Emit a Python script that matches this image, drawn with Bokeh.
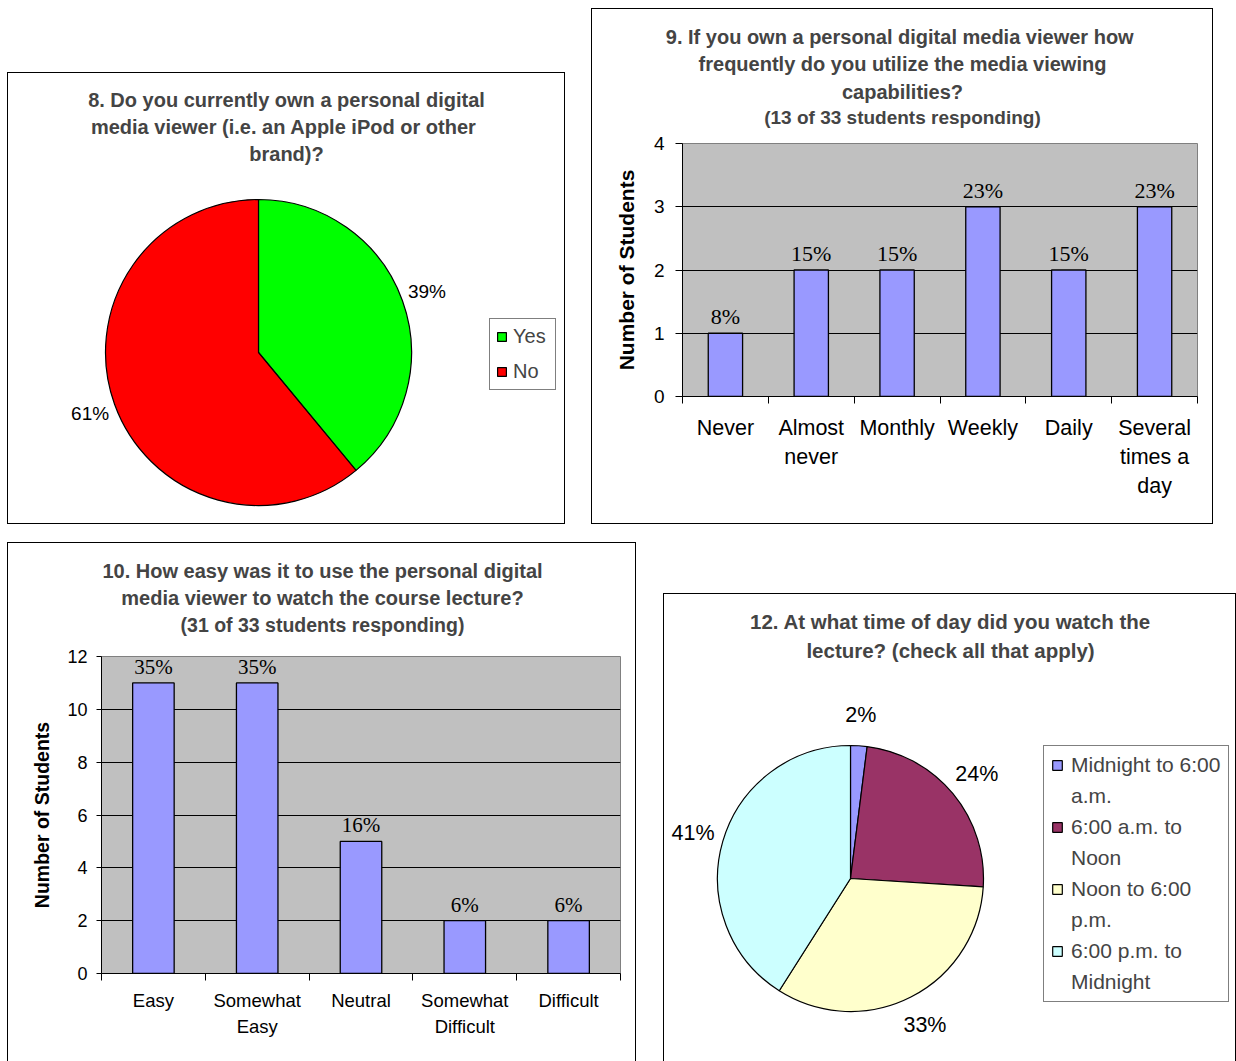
import numpy as np
from bokeh.plotting import figure
from bokeh.models import ColumnDataSource, Range1d, FixedTicker, Label, Legend, LegendItem, Spacer
from bokeh.layouts import row, column
from bokeh.embed import file_html
from bokeh.resources import INLINE
from bokeh.core.properties import value

# ---------------- data ----------------
q8_title = ["8. Do you currently own a personal digital",
            "media viewer (i.e.  an Apple iPod or other",
            "brand)?"]
q8_labels = ["Yes", "No"]
q8_percent = [39, 61]
q8_colors = ["#00FF00", "#FF0000"]

q9_title = ["9. If you own a personal digital media viewer  how",
            "frequently do you utilize the media viewing",
            "capabilities?"]
q9_subtitle = "(13 of 33 students responding)"
q9_categories = ["Never", "Almost\nnever", "Monthly", "Weekly", "Daily", "Several\ntimes a\nday"]
q9_counts = [1, 2, 2, 3, 2, 3]
q9_percent_labels = ["8%", "15%", "15%", "23%", "15%", "23%"]
q9_yticks = [0, 1, 2, 3, 4]

q10_title = ["10. How easy was it to use the personal digital",
             "media viewer to watch the course lecture?"]
q10_subtitle = "(31 of 33 students responding)"
q10_categories = ["Easy", "Somewhat\nEasy", "Neutral", "Somewhat\nDifficult", "Difficult"]
q10_counts = [11, 11, 5, 2, 2]
q10_percent_labels = ["35%", "35%", "16%", "6%", "6%"]
q10_yticks = [0, 2, 4, 6, 8, 10, 12]

q12_title = ["12. At what time of day did you watch the",
             "lecture? (check all that apply)"]
q12_labels = ["Midnight to 6:00\na.m.", "6:00 a.m. to\nNoon", "Noon to 6:00\np.m.", "6:00 p.m. to\nMidnight"]
q12_percent = [2, 24, 33, 41]
q12_colors = ["#9999FF", "#993366", "#FFFFCC", "#CCFFFF"]

y_axis_title = "Number of Students"

# ---------------- styling ----------------
SANS = "Liberation Sans"
SERIF = "Liberation Serif"
B = "1px solid #000000"
BAR_FILL = "#9999FF"
PLOT_BG = "#C0C0C0"


def blank_fig(W, H, styles):
    p = figure(width=W, height=H, x_range=Range1d(0, W), y_range=Range1d(0, H),
               min_border=0, x_axis_location=None, y_axis_location=None,
               toolbar_location=None, output_backend="svg", title=None, styles=styles)
    p.grid.grid_line_color = None
    p.outline_line_color = None
    return p


def add_lines(p, loc, lines, cx, ys, sizes):
    for line, ty, sz in zip(lines, ys, sizes):
        tx, tyl = loc(cx, ty)
        p.add_layout(Label(x=tx, y=tyl, text=line, text_align="center",
                           text_baseline="middle", text_font=SANS,
                           text_font_size=sz, text_font_style="bold"))


def make_pie(box, center_px, radius, label_radius, pct, colors, pct_font,
             title_lines, title_cx, title_ys, title_font, styles):
    bx, by, bw, bh = box
    ox, oy = bx + 1, by + 1

    def loc(px, py):
        return px - ox, bh - (py - oy)

    p = blank_fig(bw, bh, styles)
    frac = np.array(pct, dtype=float) / float(sum(pct))
    cum = np.concatenate([[0.0], np.cumsum(frac)])
    start = np.pi / 2 - 2 * np.pi * cum[:-1]
    end = np.pi / 2 - 2 * np.pi * cum[1:]
    mid = np.pi / 2 - np.pi * (cum[:-1] + cum[1:])
    cx, cy = loc(*center_px)
    src = ColumnDataSource(dict(start=start, end=end, color=colors,
                                lx=cx + label_radius * np.cos(mid),
                                ly=cy + label_radius * np.sin(mid),
                                txt=[f"{v}%" for v in pct]))
    r = p.wedge(x=cx, y=cy, radius=radius, start_angle="start", end_angle="end",
                direction="clock", fill_color="color", line_color="black",
                line_width=1.2, source=src)
    p.text(x="lx", y="ly", text="txt", source=src, text_align="center",
           text_baseline="middle", text_font=value(SANS), text_font_size=pct_font,
           text_color="black")
    add_lines(p, loc, title_lines, title_cx, title_ys, [title_font] * len(title_lines))
    return p, r, loc


def make_bar(box, title_h, frame, cats, counts, pct_labels, yticks, tick_font,
             tick_out, tick_standoff, cat_font, cat_lh, cat_standoff, pct_font,
             title_lines, title_cx, title_ys, title_font, sub_text, sub_y, sub_font,
             ytitle_font, ytitle_standoff, bottom_border):
    bx, by, bw, bh = box
    fx0, fy0, fx1, fy1 = frame
    # --- title strip (top part of the box) ---
    tstyle = {"border-top": B, "border-left": B, "border-right": B}
    t = blank_fig(bw, title_h, tstyle)
    t.frame_align = False
    ox, oy = bx + 1, by + 1

    def tloc(px, py):
        return px - ox, title_h - (py - oy)

    add_lines(t, tloc, title_lines + [sub_text], title_cx, title_ys + [sub_y],
              [title_font] * len(title_lines) + [sub_font])

    # --- bar chart (rest of the box) ---
    H = bh - title_h
    cx0, cy0 = bx + 1, by + title_h
    n = len(cats)
    ymax = yticks[-1]
    bstyle = {"border-left": B, "border-right": B}
    if bottom_border:
        bstyle["border-bottom"] = B
    p = figure(width=bw, height=H, x_range=Range1d(0, n), y_range=Range1d(0, ymax),
               min_border_left=fx0 - cx0, min_border_right=cx0 + bw - fx1,
               min_border_top=fy0 - cy0, min_border_bottom=cy0 + H - fy1,
               toolbar_location=None, output_backend="svg", title=None, styles=bstyle)
    p.frame_align = False
    p.background_fill_color = PLOT_BG
    p.border_fill_color = "white"
    p.outline_line_color = "#808080"
    p.outline_line_width = 1

    centers = [i + 0.5 for i in range(n)]
    src = ColumnDataSource(dict(x=centers, top=counts, txt=pct_labels))
    p.vbar(x="x", top="top", bottom=0, width=0.4, fill_color=BAR_FILL,
           line_color="black", line_width=1.3, source=src)
    p.text(x="x", y="top", text="txt", source=src, text_align="center",
           text_baseline="bottom", y_offset=-4, text_font=value(SERIF),
           text_font_size=pct_font, text_color="black")

    xa = p.xaxis[0]
    xa.ticker = FixedTicker(ticks=centers, minor_ticks=list(range(n + 1)))
    xa.major_label_overrides = {c: lab for c, lab in zip(centers, cats)}
    xa.major_tick_line_color = None
    xa.major_tick_in = 0
    xa.major_tick_out = 0
    xa.minor_tick_in = 0
    xa.minor_tick_out = 7
    xa.minor_tick_line_color = "black"
    xa.axis_line_color = "black"
    xa.major_label_text_font = SANS
    xa.major_label_text_font_size = cat_font
    xa.major_label_text_color = "black"
    xa.major_label_text_line_height = cat_lh
    xa.major_label_standoff = cat_standoff

    ya = p.yaxis[0]
    ya.ticker = FixedTicker(ticks=yticks)
    ya.minor_tick_line_color = None
    ya.major_tick_in = 0
    ya.major_tick_out = tick_out
    ya.major_tick_line_color = "black"
    ya.axis_line_color = "black"
    ya.major_label_text_font = SANS
    ya.major_label_text_font_size = tick_font
    ya.major_label_text_color = "black"
    ya.major_label_standoff = tick_standoff
    ya.axis_label = y_axis_title
    ya.axis_label_text_font = SANS
    ya.axis_label_text_font_size = ytitle_font
    ya.axis_label_text_font_style = "bold"
    ya.axis_label_text_color = "black"
    ya.axis_label_standoff = ytitle_standoff

    p.xgrid.visible = False
    p.ygrid.ticker = FixedTicker(ticks=yticks[1:-1])
    p.ygrid.grid_line_color = "black"
    p.ygrid.grid_line_width = 1
    return column(t, p)


# ---------------- chart 8 ----------------
box8 = (7, 72, 558, 452)
p8, r8, loc8 = make_pie(box8, (258, 352), 153, 179, q8_percent, q8_colors,
                        "19px", q8_title, 286, [99, 126, 153], "20px",
                        {"border": B})
leg8 = Legend(items=[LegendItem(label=lab, renderers=[r8], index=i) for i, lab in enumerate(q8_labels)],
              location=loc8(489, 390), padding=6, spacing=12, glyph_width=11,
              glyph_height=11, label_height=23, label_width=36, label_standoff=6,
              label_text_font=SANS, label_text_font_size="20px",
              border_line_color="black", border_line_width=1,
              background_fill_color="white", margin=0)
p8.add_layout(leg8)

# ---------------- chart 9 ----------------
c9 = make_bar((591, 8, 622, 516), 123, (682, 143, 1197, 396), q9_categories, q9_counts,
              q9_percent_labels, q9_yticks, "19px", 7, 11, "21.5px", 1.21, 12, "22px",
              q9_title, 902, [36, 63, 91], "20px", q9_subtitle, 117, "19px",
              "21px", 13, True)

# ---------------- chart 10 ----------------
c10 = make_bar((7, 542, 629, 519), 102, (101, 656, 620, 973), q10_categories, q10_counts,
               q10_percent_labels, q10_yticks, "18px", 5, 9, "18.5px", 1.26, 9, "21px",
               q10_title, 322, [570, 597], "20px", q10_subtitle, 624, "19.5px",
               "19.5px", 11, False)

# ---------------- chart 12 ----------------
box12 = (663, 593, 573, 468)
p12, r12, loc12 = make_pie(box12, (850, 878), 133, 164, q12_percent, q12_colors,
                           "21.5px", q12_title, 950, [621, 650], "20.5px",
                           {"border-top": B, "border-left": B, "border-right": B})
blank12 = p12.rect(x=[], y=[], width=1, height=1, fill_alpha=0, line_alpha=0)
items12 = []
for i, lab in enumerate(q12_labels):
    parts = lab.split("\n")
    items12.append(LegendItem(label=parts[0], renderers=[r12], index=i))
    for extra in parts[1:]:
        items12.append(LegendItem(label=extra, renderers=[blank12]))
leg12 = Legend(items=items12, location=loc12(1043, 1002), padding=7, spacing=7,
               glyph_width=12, glyph_height=12, label_height=24, label_width=150,
               label_standoff=8, label_text_font=SANS, label_text_font_size="21px",
               border_line_color="black", border_line_width=1,
               background_fill_color="white", margin=0)
p12.add_layout(leg12)

content = column(
    row(column(Spacer(width=1, height=64), p8), Spacer(width=26, height=1), c9),
    Spacer(width=1, height=18),
    row(c10, Spacer(width=27, height=1), column(Spacer(width=1, height=51), p12)),
)
root = column(Spacer(width=1, height=8), row(Spacer(width=7, height=1), content))

open("out.html", "w").write(file_html(root, INLINE))
